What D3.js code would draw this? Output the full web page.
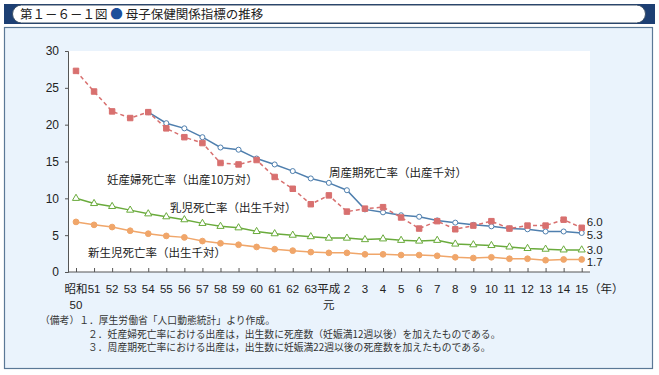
<!DOCTYPE html>
<html>
<head>
<meta charset="utf-8">
<script src="https://cdn.jsdelivr.net/npm/d3@7"></script>
<style>
  body { margin: 0; background: #fff; }
  svg text { font-family: "Liberation Sans", "Noto Sans CJK JP", sans-serif; }
  .jp { font-family: "Noto Sans CJK JP", sans-serif; }
</style>
</head>
<body>
<svg class="chart" width="659" height="375"></svg>
<script>
const width = 659
const height = 375

// 年次 (昭和50年～平成15年)
const years = ["昭和\n50", "51", "52", "53", "54", "55", "56", "57", "58", "59", "60", "61", "62", "63",
    "平成\n元", "2", "3", "4", "5", "6", "7", "8", "9", "10", "11", "12", "13", "14", "15"]

// 妊産婦死亡率（出産10万対）
const maternal = [27.3, 24.5, 21.8, 20.9, 21.7, 19.5, 18.3, 17.5, 14.8, 14.6, 15.2, 12.9, 11.3, 9.2,
    10.4, 8.2, 8.6, 8.8, 7.4, 5.9, 6.9, 5.8, 6.3, 6.9, 5.9, 6.3, 6.3, 7.1, 6.0]
// 周産期死亡率（出産千対） 昭和54年から
const perinatal = [null, null, null, null, 21.7, 20.2, 19.5, 18.3, 16.9, 16.6, 15.4, 14.6, 13.7, 12.7,
    12.1, 11.1, 8.5, 8.1, 7.7, 7.5, 7.0, 6.7, 6.4, 6.2, 5.9, 5.8, 5.5, 5.5, 5.3]
// 乳児死亡率（出生千対）
const infant = [10.0, 9.3, 8.9, 8.4, 7.9, 7.5, 7.1, 6.6, 6.2, 6.0, 5.5, 5.2, 5.0, 4.8,
    4.6, 4.6, 4.4, 4.5, 4.3, 4.2, 4.3, 3.8, 3.7, 3.6, 3.4, 3.2, 3.1, 3.0, 3.0]
// 新生児死亡率（出生千対）
const neonatal = [6.8, 6.4, 6.1, 5.6, 5.2, 4.9, 4.7, 4.2, 3.9, 3.7, 3.4, 3.1, 2.9, 2.7,
    2.6, 2.6, 2.4, 2.4, 2.3, 2.3, 2.2, 2.0, 1.9, 2.0, 1.8, 1.8, 1.6, 1.7, 1.7]

const yTicks = [0, 5, 10, 15, 20, 25, 30]
const notes = [
    "（備考）１．厚生労働省「人口動態統計」より作成。",
    "２．妊産婦死亡率における出産は，出生数に死産数（妊娠満12週以後）を加えたものである。",
    "３．周産期死亡率における出産は，出生数に妊娠満22週以後の死産数を加えたものである。"
]

const svg = d3.select("svg.chart")

// 外枠
svg.append("rect")
    .attr("x", 4.5).attr("y", 27.5)
    .attr("width", 648).attr("height", 341)
    .attr("fill", "#eaf3fc")
    .attr("stroke", "#5a7896")
    .attr("stroke-width", 1.2)

// タイトルバー
svg.append("rect")
    .attr("x", 4).attr("y", 4)
    .attr("width", 651).attr("height", 20)
    .attr("fill", "#1d3f73")
svg.append("rect")
    .attr("x", 12.5).attr("y", 5)
    .attr("width", 633).attr("height", 18)
    .attr("rx", 9)
    .attr("fill", "#fff")
    .attr("stroke", "#3b4f66")
const title = svg.append("text")
    .attr("class", "jp")
    .attr("x", 20).attr("y", 19)
    .attr("font-size", 12.5)
    .attr("fill", "#222")
title.append("tspan").text("第１－６－１図 ")
title.append("tspan").attr("fill", "#1d4e9a").text("●")
title.append("tspan").text(" 母子保健関係指標の推移")

// プロット領域
const plot = { left: 68, right: 590, top: 51, bottom: 272 }
svg.append("rect")
    .attr("x", plot.left).attr("y", plot.top)
    .attr("width", plot.right - plot.left).attr("height", plot.bottom - plot.top)
    .attr("fill", "#fff")

const x = d3.scalePoint()
    .domain(d3.range(years.length))
    .range([76, 581.7])

const y = d3.scaleLinear()
    .domain([0, 30])
    .range([plot.bottom, plot.top])

// y軸
const yAxis = svg.append("g")
    .attr("transform", `translate(${plot.left},0)`)
    .call(d3.axisLeft(y).tickValues(yTicks).tickSize(3).tickPadding(6))
yAxis.select(".domain").attr("stroke", "#555")
yAxis.selectAll(".tick line").attr("stroke", "#555")
yAxis.selectAll(".tick text").attr("font-size", 12).attr("fill", "#222")

// x軸
const xAxis = svg.append("g")
    .attr("transform", `translate(0,${plot.bottom})`)
    .call(d3.axisBottom(x).tickSize(-4).tickFormat(""))
xAxis.select(".domain")
    .attr("d", `M${plot.left},0H${plot.right}`)
    .attr("stroke", "#555")
xAxis.selectAll(".tick line").attr("stroke", "#555")

const xl = svg.append("g")
    .selectAll("text")
    .data(years)
    .join("text")
    .attr("x", (d, i) => x(i))
    .attr("y", 293)
    .attr("text-anchor", "middle")
    .attr("font-size", 11.5)
    .attr("fill", "#222")
xl.each(function (d) {
    const parts = d.split("\n")
    const t = d3.select(this)
    parts.forEach((p, k) => {
        t.append("tspan")
            .attr("x", t.attr("x"))
            .attr("dy", k === 0 ? 0 : 16)
            .attr("class", /[^\x00-\x7f]/.test(p) ? "jp" : null)
            .attr("font-size", /[^\x00-\x7f]/.test(p) ? 11.5 : 11.5)
            .text(p)
    })
})
svg.append("text")
    .attr("class", "jp")
    .attr("x", 589).attr("y", 293)
    .attr("font-size", 11.5)
    .attr("fill", "#222")
    .text("（年）")

// 系列
const series = [
    { key: "perinatal", values: perinatal, color: "#4f7fae", dash: null, marker: "circle", fill: "#fff" },
    { key: "maternal", values: maternal, color: "#d8706f", dash: "4,3", marker: "square", fill: "#d8706f" },
    { key: "infant", values: infant, color: "#6aab3c", dash: null, marker: "triangle", fill: "#fff" },
    { key: "neonatal", values: neonatal, color: "#f0a66a", dash: null, marker: "dot", fill: "#f0a66a" }
]

const line = d3.line()
    .defined(d => d != null)
    .x((d, i) => x(i))
    .y(d => y(d))

series.forEach((s) => {
    const g = svg.append("g")
    g.append("path")
        .datum(s.values)
        .attr("fill", "none")
        .attr("stroke", s.color)
        .attr("stroke-width", 1.5)
        .attr("stroke-dasharray", s.dash)
        .attr("d", line)

    const pts = s.values.map((v, i) => ({ v, i })).filter(d => d.v != null)
    const sym = {
        circle: d3.symbolCircle,
        square: d3.symbolSquare,
        triangle: d3.symbolTriangle,
        dot: d3.symbolCircle
    }[s.marker]
    const size = { circle: 20, square: 30, triangle: 22, dot: 26 }[s.marker]
    g.selectAll("path.pt")
        .data(pts)
        .join("path")
        .attr("class", "pt")
        .attr("transform", d => `translate(${x(d.i)},${y(d.v)})`)
        .attr("d", d3.symbol().type(sym).size(size))
        .attr("fill", s.fill)
        .attr("stroke", s.color)
        .attr("stroke-width", 1)
})

// 末尾の値
const lastIdx = years.length - 1
const endLabels = [
    { text: "6.0", y: 222 },
    { text: "5.3", y: 235 },
    { text: "3.0", y: 250 },
    { text: "1.7", y: 262 }
]
svg.append("g")
    .selectAll("text")
    .data(endLabels)
    .join("text")
    .attr("x", x(lastIdx) + 5)
    .attr("y", d => d.y + 4)
    .attr("font-size", 11.5)
    .attr("fill", "#222")
    .text(d => d.text)

// 系列名
const seriesLabels = [
    { text: "妊産婦死亡率（出産10万対）", x: 107, y: 184 },
    { text: "周産期死亡率（出産千対）", x: 329, y: 177 },
    { text: "乳児死亡率（出生千対）", x: 170, y: 212 },
    { text: "新生児死亡率（出生千対）", x: 88, y: 257 }
]
svg.append("g")
    .selectAll("text")
    .data(seriesLabels)
    .join("text")
    .attr("class", "jp")
    .attr("x", d => d.x)
    .attr("y", d => d.y)
    .attr("font-size", 11.5)
    .attr("fill", "#222")
    .text(d => d.text)

// 備考
svg.append("g")
    .selectAll("text")
    .data(notes)
    .join("text")
    .attr("class", "jp")
    .attr("x", (d, i) => i === 0 ? 40 : 88)
    .attr("y", (d, i) => 324 + i * 13.5)
    .attr("font-size", 9.8)
    .attr("fill", "#333")
    .text(d => d)
</script>
</body>
</html>
